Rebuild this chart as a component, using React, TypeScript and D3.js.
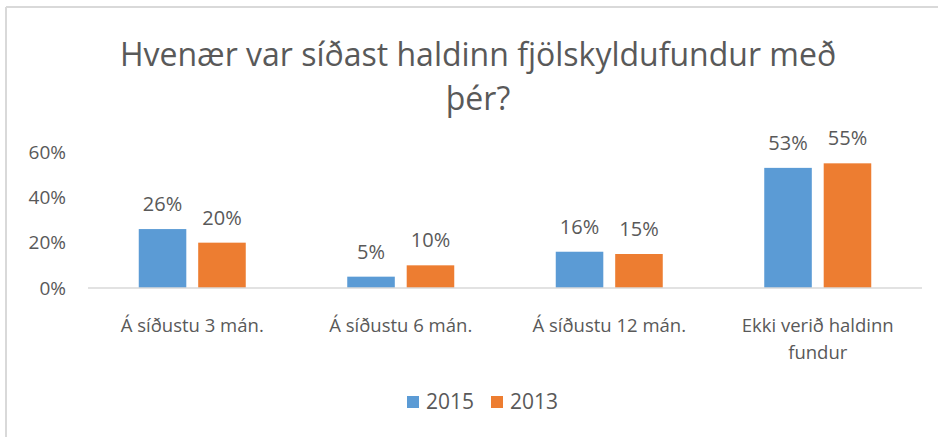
import React from 'react';
import * as d3 from 'd3';

const categories = ['Á síðustu 3 mán.', 'Á síðustu 6 mán.', 'Á síðustu 12 mán.', 'Ekki verið haldinn fundur'];
const seriesNames = ['2015', '2013'];
const values2015 = [26, 5, 16, 53];
const values2013 = [20, 10, 15, 55];
const yTicks = [0, 20, 40, 60];
const colors = ['#5b9bd5', '#ed7d31'];

const W = 938;
const H = 437;
const font = '"Open Sans", "Liberation Sans", sans-serif';
const grey = '#595959';

// split long category labels like Excel does
const wrap = (s: string) => (s.length > 20 ? ['Ekki verið haldinn', 'fundur'] : [s]);

export default function App() {
  const x0 = d3.scaleBand().domain(categories).range([88, 922]);
  const x1 = d3.scaleBand().domain(seriesNames).range([0, 107]).paddingInner(0.2);
  const y = d3.scaleLinear().domain([0, 60]).range([288, 152]);
  const series = [values2015, values2013];

  return (
    <svg width={W} height={H} style={{ position: 'absolute', left: 0, top: 0 }}>
      <rect x={0} y={0} width={W} height={H} fill="#fff" />
      <line x1={6} x2={W} y1={7} y2={7} stroke="#d9d9d9" strokeWidth={2} />
      <line x1={6} x2={6} y1={7} y2={H} stroke="#d9d9d9" strokeWidth={2} />

      <text x={478} y={66} textAnchor="middle" fontFamily={font} fontSize={32} fill={grey}>
        Hvenær var síðast haldinn fjölskyldufundur með
      </text>
      <text x={478} y={110} textAnchor="middle" fontFamily={font} fontSize={32} fill={grey}>
        þér?
      </text>

      {yTicks.map(t => (
        <text key={t} x={66} y={y(t)} dy="0.35em" textAnchor="end" fontFamily={font} fontSize={19} fill={grey}>
          {t}%
        </text>
      ))}

      {categories.map((c, i) => {
        const gx = (x0(c) ?? 0) + (x0.bandwidth() - 107) / 2;
        return (
          <g key={c}>
            {series.map((vals, s) => {
              const bx = gx + (x1(seriesNames[s]) ?? 0);
              return (
                <g key={s}>
                  <rect x={bx} y={y(vals[i])} width={x1.bandwidth()} height={y(0) - y(vals[i])} fill={colors[s]} />
                  <text x={bx + x1.bandwidth() / 2} y={y(vals[i]) - 18} textAnchor="middle" fontFamily={font} fontSize={20} fill={grey}>
                    {vals[i]}%
                  </text>
                </g>
              );
            })}
            {wrap(c).map((line, k) => (
              <text key={k} x={(x0(c) ?? 0) + x0.bandwidth() / 2} y={332 + k * 27} textAnchor="middle" fontFamily={font} fontSize={18.5} fill={grey}>
                {line}
              </text>
            ))}
          </g>
        );
      })}

      <line x1={88} x2={922} y1={y(0)} y2={y(0)} stroke="#d9d9d9" strokeWidth={1.5} />

      {seriesNames.map((n, s) => (
        <g key={n} transform={`translate(${407 + s * 84},0)`}>
          <rect x={0} y={396} width={12} height={12} fill={colors[s]} />
          <text x={19} y={409} fontFamily={font} fontSize={21} fill={grey}>{n}</text>
        </g>
      ))}
    </svg>
  );
}
